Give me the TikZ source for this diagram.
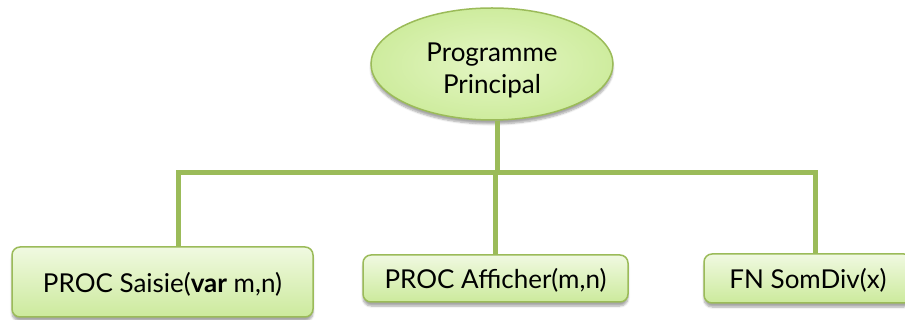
\documentclass[tikz,border=0pt]{standalone}
\usepackage{fontspec}
\setmainfont{Lato}
\usetikzlibrary{shadows.blur,shapes.geometric}
\definecolor{linkgreen}{RGB}{155,187,89}
\definecolor{edgegreen}{RGB}{155,187,89}
\definecolor{filltop}{RGB}{240,249,225}
\definecolor{fillbot}{RGB}{204,234,156}
\definecolor{ellin}{RGB}{228,246,196}
\definecolor{ellout}{RGB}{206,236,158}
\tikzset{
  link/.style={draw=linkgreen,line width=5pt},
  leaf/.style={draw=edgegreen,line width=1.5pt,rounded corners=8pt,
    top color=filltop,bottom color=fillbot,
    blur shadow={shadow xshift=0pt,shadow yshift=-4pt,shadow blur steps=6,shadow opacity=35},
    font=\fontsize{26}{30}\selectfont,inner sep=0pt,text depth=0pt},
  rootnode/.style={ellipse,draw=edgegreen,line width=1.5pt,
    inner color=ellin,outer color=ellout,
    blur shadow={shadow xshift=0pt,shadow yshift=-4pt,shadow blur steps=6,shadow opacity=35},
    font=\fontsize{26}{29}\selectfont,inner sep=0pt,text height=0pt,text depth=0pt}
}
\begin{document}
\begin{tikzpicture}[x=1pt,y=-1pt]
\useasboundingbox (0,0) rectangle (905,320);
\clip (0,0) rectangle (905,320);
% junction points of the connector bus
\coordinate (j1) at (178,173);
\coordinate (j2) at (495,173);
\coordinate (j3) at (815,173);
\coordinate (top) at (497,173);
% nodes
\node[rootnode,minimum width=242pt,minimum height=112pt] (main) at (492,64)
  {\raisebox{-13.5pt}[0pt][0pt]{\begin{tabular}{@{}c@{}}Programme\\[3pt]Principal\end{tabular}}};
\node[leaf,minimum width=301pt,minimum height=70pt] (b1) at (162.5,282) {PROC Saisie(\textbf{var} m,n)};
\node[leaf,minimum width=265pt,minimum height=47pt] (b2) at (495.5,278.5) {PROC Afficher(m,n)};
\node[leaf,minimum width=208pt,minimum height=49pt] (b3) at (808,278.5) {FN SomDiv(x)};
% connectors
\path[link] (top |- main.south) -- (top);
\path[link] (j1 |- b1.north) -- (j1) -- (j3) -- (j3 |- b3.north);
\path[link] (j2) -- (j2 |- b2.north);
\end{tikzpicture}
\end{document}
